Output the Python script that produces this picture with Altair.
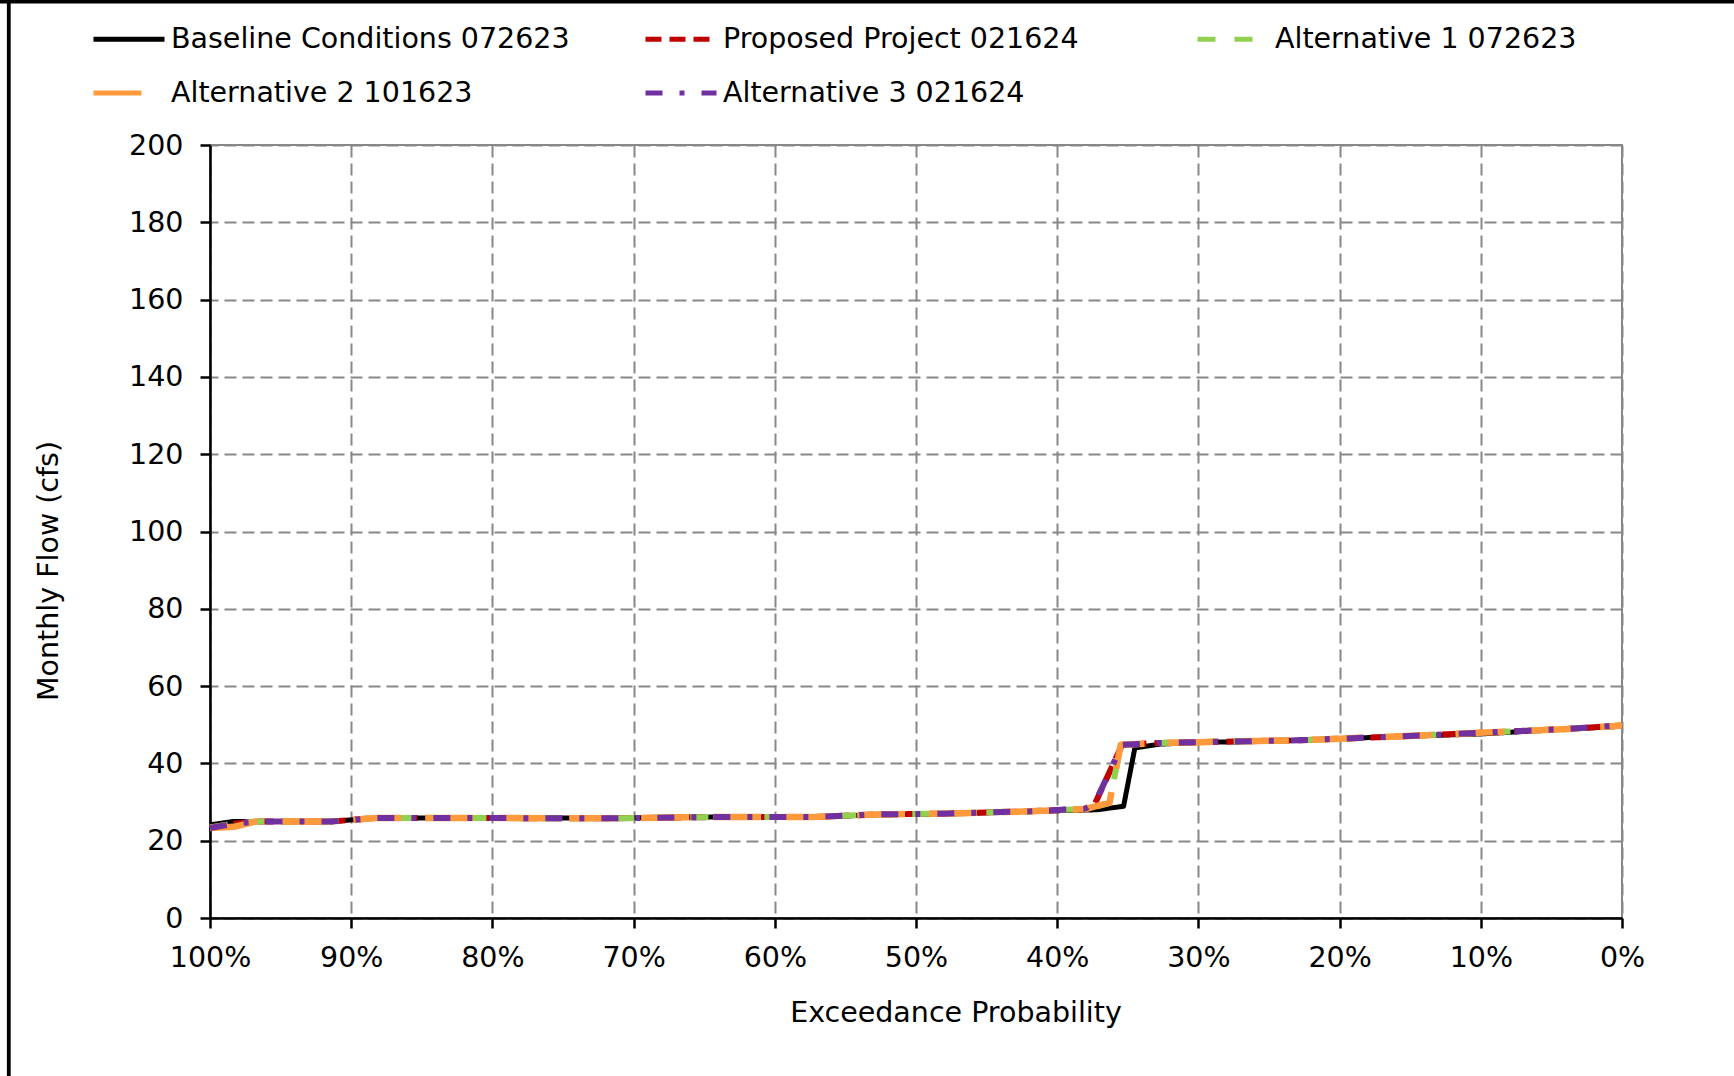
import altair as alt
import pandas as pd

# Scenario names, colours and line styles (drawing order = list order)
SERIES = [
    "Baseline Conditions 072623",
    "Proposed Project 021624",
    "Alternative 1 072623",
    "Alternative 2 101623",
    "Alternative 3 021624",
]
COLORS = ["#000000", "#C00000", "#92D050", "#FF9A3C", "#7030A0"]
DASHES = [[1, 0], [16, 8], [18, 19], [48, 24], [17, 17, 5, 17]]
WIDTHS = [5.0, 6.0, 6.0, 6.5, 6.0]

# Legend fills column by column over two rows, so entries are listed in that order
LEGEND_ORDER = [0, 3, 1, 4, 2]

# Exceedance probability (%) and monthly flow (cfs) for each scenario
BASELINE_PCT = [100, 98.3, 96.7, 91.3, 88.2, 71.7, 64.6, 57.5, 52.8, 48.1, 41.9,
                37.2, 35.3, 34.5, 32.7, 29.9, 22.8, 20.0, 15.7, 10.1, 3.9, 0]
BASELINE_CFS = [24.1, 25.0, 25.0, 25.0, 25.9, 25.9, 26.1, 26.1, 26.7, 26.9, 27.6,
                28.0, 28.9, 44.0, 45.0, 45.4, 46.0, 46.4, 47.0, 47.6, 48.9, 49.6]

PROPOSED_PCT = [100, 98.3, 96.7, 91.3, 88.2, 71.7, 64.6, 57.5, 52.8, 48.1, 41.9,
                38.0, 37.3, 35.4, 32.7, 29.9, 22.8, 20.0, 15.7, 10.1, 3.9, 0]
PROPOSED_CFS = [23.4, 24.4, 25.0, 25.0, 25.9, 25.8, 26.1, 26.1, 26.8, 27.0, 27.6,
                28.2, 29.8, 44.8, 45.3, 45.5, 46.0, 46.4, 47.0, 47.9, 48.9, 49.8]

ALT1_PCT = [100, 98.3, 96.7, 91.3, 88.2, 71.7, 64.6, 57.5, 52.8, 48.1, 41.9,
            38.0, 37.3, 36.3, 35.5, 32.7, 29.9, 22.8, 20.0, 15.7, 10.1, 3.9, 0]
ALT1_CFS = [23.4, 24.5, 25.0, 25.0, 25.9, 25.8, 26.1, 26.1, 26.8, 27.0, 27.6,
            28.2, 28.8, 29.8, 44.8, 45.3, 45.5, 46.0, 46.4, 47.0, 47.9, 48.9, 49.8]

ALT2_PCT = [100, 98.3, 96.7, 91.3, 88.2, 71.7, 64.6, 57.5, 52.8, 48.1, 41.9,
            38.0, 37.3, 36.3, 35.5, 32.7, 29.9, 22.8, 20.0, 15.7, 10.1, 3.9, 0]
ALT2_CFS = [23.3, 23.6, 25.0, 25.0, 25.9, 25.8, 26.1, 26.1, 26.8, 27.0, 27.6,
            28.2, 28.9, 29.8, 44.8, 45.3, 45.5, 46.0, 46.4, 47.0, 47.9, 48.9, 49.8]

ALT3_PCT = [100, 98.3, 96.7, 91.3, 88.2, 71.7, 64.6, 57.5, 52.8, 48.1, 41.9,
            38.0, 37.3, 35.4, 32.7, 29.9, 22.8, 20.0, 15.7, 10.1, 3.9, 0]
ALT3_CFS = [23.3, 24.4, 25.0, 25.0, 25.9, 25.8, 26.1, 26.1, 26.8, 27.0, 27.6,
            28.3, 30.0, 44.8, 45.3, 45.5, 46.0, 46.4, 47.0, 47.9, 48.9, 49.9]

PCTS = [BASELINE_PCT, PROPOSED_PCT, ALT1_PCT, ALT2_PCT, ALT3_PCT]
FLOWS = [BASELINE_CFS, PROPOSED_CFS, ALT1_CFS, ALT2_CFS, ALT3_CFS]

rows = []
for name, pct, cfs in zip(SERIES, PCTS, FLOWS):
    for p, v in zip(pct, cfs):
        rows.append({"series": name, "pct": p, "cfs": v})
df = pd.DataFrame(rows)

FONT = "DejaVu Sans"
FS = 28.5

legend_domain = [SERIES[i] for i in LEGEND_ORDER]
legend_colors = [COLORS[i] for i in LEGEND_ORDER]
legend_dashes = [DASHES[i] for i in LEGEND_ORDER]

legend = alt.Legend(
    title=None, orient="none", legendX=-119, legendY=-120,
    columns=3, gridAlign="all", columnPadding=73, rowPadding=25,
    symbolType="stroke", symbolSize=5041, symbolStrokeWidth=5,
    clipHeight=28, labelFont=FONT, labelFontSize=FS, labelColor="black",
    labelOffset=4, labelLimit=1000, padding=0,
)

x_enc = alt.X(
    "pct:Q",
    scale=alt.Scale(domain=[0, 100], reverse=True, nice=False),
    axis=alt.Axis(values=list(range(0, 101, 10)), labelExpr="datum.value + '%'",
                  title="Exceedance Probability", titlePadding=27, titleX=745.5,
                  labelPadding=15, labelFlush=False, labelOverlap=False),
)
y_enc = alt.Y(
    "cfs:Q",
    scale=alt.Scale(domain=[0, 200], nice=False),
    axis=alt.Axis(values=list(range(0, 201, 20)), title="Monthly Flow (cfs)",
                  titlePadding=65, titleY=425.5, labelPadding=17,
                  labelFlush=False, labelOverlap=False),
)
color_enc = alt.Color("series:N", scale=alt.Scale(domain=legend_domain, range=legend_colors),
                      legend=legend)
dash_enc = alt.StrokeDash("series:N", scale=alt.Scale(domain=legend_domain, range=legend_dashes),
                          legend=legend)

layers = []
for i, name in enumerate(SERIES):
    layers.append(
        alt.Chart(df)
        .transform_filter(alt.datum.series == name)
        .mark_line(strokeWidth=WIDTHS[i], strokeCap="butt", strokeJoin="round")
        .encode(x=x_enc, y=y_enc, color=color_enc, strokeDash=dash_enc)
    )

# Page frame along the top and left edges
frame_df = pd.DataFrame({"edge": ["frame"]})
top_edge = alt.Chart(frame_df).mark_rule(color="black", strokeWidth=3.4).encode(
    x=alt.value(-210), x2=alt.value(1524), y=alt.value(-143.3)
)
left_edge = alt.Chart(frame_df).mark_rule(color="black", strokeWidth=3.8).encode(
    x=alt.value(-201.2), y=alt.value(-145), y2=alt.value(931)
)

chart = (
    alt.layer(*layers, top_edge, left_edge)
    .properties(
        width=1412, height=773,
        padding={"left": 210, "top": 145, "right": 112, "bottom": 158},
        autosize=alt.AutoSizeParams(type="none"),
        background="white",
    )
    .configure_view(stroke="#888888", strokeWidth=2)
    .configure_axis(
        grid=True, gridColor="#888888", gridDash=[12, 6], gridWidth=2,
        domainColor="black", domainWidth=2.5,
        tickColor="black", tickWidth=2.5, tickSize=10,
        labelFont=FONT, labelFontSize=FS, labelColor="black",
        titleFont=FONT, titleFontSize=FS, titleFontWeight="normal", titleColor="black",
    )
)

chart.save("out.html", embed_options={"renderer": "svg", "actions": False})
